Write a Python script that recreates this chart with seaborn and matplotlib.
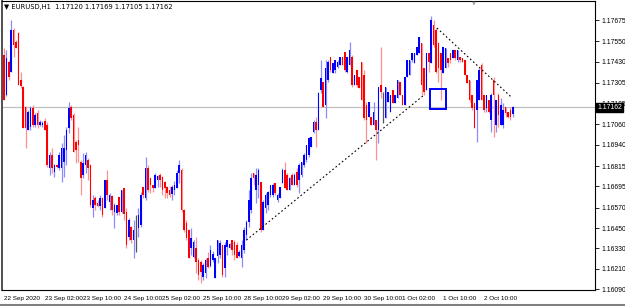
import matplotlib
matplotlib.use("Agg")
import matplotlib.pyplot as plt
import matplotlib.transforms as mtransforms
from matplotlib.patches import Rectangle
from matplotlib.lines import Line2D
import seaborn as sns
import numpy as np

sns.set_style("white")
plt.rcParams['font.family'] = ['Liberation Sans', 'DejaVu Sans']

# ---------------- data (EURUSD H1) ----------------
opens = [
    1.17469, 1.17233, 1.17428, 1.17369, 1.17616, 1.17546, 1.17599, 1.17322, 1.17281, 1.17163,
    1.17027, 1.17045, 1.17157, 1.17057, 1.17127, 1.17057, 1.17057, 1.17080, 1.17057, 1.16803,
    1.16880, 1.16780, 1.16821, 1.16803, 1.16803, 1.16839, 1.16910, 1.17039, 1.17163, 1.17116,
    1.16957, 1.16968, 1.16839, 1.16762, 1.16821, 1.16851, 1.16821, 1.16568, 1.16627, 1.16597,
    1.16580, 1.16627, 1.16568, 1.16733, 1.16603, 1.16639, 1.16544, 1.16538, 1.16633, 1.16544,
    1.16686, 1.16544, 1.16397, 1.16456, 1.16379, 1.16397, 1.16450, 1.16468, 1.16692, 1.16627,
    1.16803, 1.16745, 1.16703, 1.16686, 1.16733, 1.16762, 1.16750, 1.16721, 1.16692, 1.16674,
    1.16650, 1.16674, 1.16686, 1.16774, 1.16792, 1.16556, 1.16480, 1.16438, 1.16332, 1.16279,
    1.16332, 1.16262, 1.16250, 1.16161, 1.16185, 1.16273, 1.16226, 1.16262, 1.16156, 1.16285,
    1.16291, 1.16350, 1.16215, 1.16338, 1.16332, 1.16379, 1.16368, 1.16350, 1.16285, 1.16273,
    1.16321, 1.16409, 1.16485, 1.16556, 1.16774, 1.16674, 1.16703, 1.16721, 1.16438, 1.16568,
    1.16586, 1.16644, 1.16644, 1.16715, 1.16615, 1.16627, 1.16715, 1.16792, 1.16762, 1.16674,
    1.16762, 1.16703, 1.16780, 1.16733, 1.16762, 1.16821, 1.16851, 1.16880, 1.16927, 1.17016,
    1.17074, 1.17027, 1.17263, 1.17310, 1.17175, 1.17322, 1.17457, 1.17363, 1.17381, 1.17398,
    1.17410, 1.17457, 1.17487, 1.17369, 1.17410, 1.17457, 1.17292, 1.17381, 1.17339, 1.17428,
    1.17351, 1.17175, 1.17104, 1.17104, 1.17057, 1.17086, 1.17027, 1.17292, 1.17204, 1.17098,
    1.17192, 1.17133, 1.17263, 1.17186, 1.17216, 1.17310, 1.17233, 1.17175, 1.17339, 1.17351,
    1.17440, 1.17422, 1.17469, 1.17481, 1.17540, 1.17392, 1.17263, 1.17481, 1.17422, 1.17646,
    1.17616, 1.17540, 1.17481, 1.17363, 1.17392, 1.17451, 1.17481, 1.17451, 1.17498, 1.17440,
    1.17457, 1.17451, 1.17440, 1.17351, 1.17322, 1.17233, 1.17186, 1.17145, 1.17204, 1.17410,
    1.17233, 1.17157, 1.17204, 1.17086, 1.17322, 1.17057, 1.17233, 1.17057, 1.17057, 1.17163,
    1.17133, 1.17145, 1.17120,
]
closes = [
    1.17204, 1.17451, 1.17339, 1.17616, 1.17528, 1.17510, 1.17292, 1.17286, 1.17039, 1.17039,
    1.17133, 1.17157, 1.17057, 1.17116, 1.17057, 1.17074, 1.17069, 1.17027, 1.16821, 1.16880,
    1.16803, 1.16821, 1.16809, 1.16880, 1.16921, 1.16921, 1.17027, 1.17157, 1.17098, 1.16898,
    1.16910, 1.16939, 1.16745, 1.16833, 1.16880, 1.16803, 1.16586, 1.16615, 1.16586, 1.16580,
    1.16627, 1.16527, 1.16733, 1.16644, 1.16644, 1.16556, 1.16586, 1.16586, 1.16544, 1.16674,
    1.16533, 1.16350, 1.16497, 1.16379, 1.16438, 1.16397, 1.16527, 1.16644, 1.16644, 1.16803,
    1.16674, 1.16703, 1.16686, 1.16762, 1.16756, 1.16733, 1.16674, 1.16686, 1.16656, 1.16644,
    1.16692, 1.16703, 1.16774, 1.16821, 1.16556, 1.16438, 1.16391, 1.16273, 1.16391, 1.16368,
    1.16250, 1.16173, 1.16191, 1.16232, 1.16262, 1.16220, 1.16321, 1.16297, 1.16273, 1.16379,
    1.16362, 1.16173, 1.16350, 1.16379, 1.16356, 1.16321, 1.16291, 1.16273, 1.16309, 1.16350,
    1.16438, 1.16485, 1.16615, 1.16745, 1.16745, 1.16762, 1.16792, 1.16438, 1.16603, 1.16644,
    1.16662, 1.16703, 1.16703, 1.16656, 1.16644, 1.16692, 1.16792, 1.16686, 1.16674, 1.16745,
    1.16703, 1.16762, 1.16703, 1.16821, 1.16839, 1.16880, 1.16939, 1.16980, 1.16986, 1.17074,
    1.17027, 1.17245, 1.17334, 1.17163, 1.17392, 1.17428, 1.17381, 1.17422, 1.17440, 1.17428,
    1.17457, 1.17410, 1.17381, 1.17457, 1.17498, 1.17292, 1.17351, 1.17292, 1.17275, 1.17204,
    1.17098, 1.17086, 1.17192, 1.17057, 1.17133, 1.17027, 1.17281, 1.17251, 1.17204, 1.17281,
    1.17251, 1.17233, 1.17186, 1.17233, 1.17322, 1.17233, 1.17175, 1.17339, 1.17440, 1.17440,
    1.17481, 1.17481, 1.17516, 1.17575, 1.17292, 1.17251, 1.17481, 1.17428, 1.17675, 1.17528,
    1.17369, 1.17392, 1.17381, 1.17516, 1.17510, 1.17422, 1.17440, 1.17498, 1.17451, 1.17498,
    1.17440, 1.17428, 1.17351, 1.17304, 1.17204, 1.17157, 1.17039, 1.17322, 1.17381, 1.17204,
    1.17145, 1.17233, 1.17133, 1.17233, 1.17233, 1.17204, 1.17116, 1.17175, 1.17145, 1.17127,
    1.17104, 1.17104, 1.17162,
]
highs = [
    1.17510, 1.17498, 1.17440, 1.17675, 1.17628, 1.17557, 1.17605, 1.17369, 1.17286, 1.17169,
    1.17145, 1.17169, 1.17175, 1.17127, 1.17145, 1.17086, 1.17080, 1.17098, 1.17074, 1.16898,
    1.16921, 1.16827, 1.16827, 1.16898, 1.16951, 1.16998, 1.17045, 1.17192, 1.17175, 1.17127,
    1.16968, 1.17045, 1.16851, 1.16892, 1.16898, 1.16862, 1.16827, 1.16644, 1.16639, 1.16615,
    1.16644, 1.16633, 1.16733, 1.16792, 1.16656, 1.16644, 1.16597, 1.16586, 1.16633, 1.16674,
    1.16686, 1.16568, 1.16509, 1.16462, 1.16497, 1.16527, 1.16568, 1.16662, 1.16692, 1.16868,
    1.16821, 1.16745, 1.16703, 1.16774, 1.16762, 1.16774, 1.16756, 1.16727, 1.16698, 1.16698,
    1.16703, 1.16727, 1.16792, 1.16851, 1.16803, 1.16562, 1.16497, 1.16444, 1.16450, 1.16379,
    1.16397, 1.16273, 1.16262, 1.16244, 1.16273, 1.16309, 1.16350, 1.16315, 1.16273, 1.16379,
    1.16379, 1.16350, 1.16368, 1.16379, 1.16362, 1.16379, 1.16379, 1.16368, 1.16321, 1.16379,
    1.16456, 1.16497, 1.16674, 1.16774, 1.16774, 1.16803, 1.16803, 1.16721, 1.16615, 1.16656,
    1.16668, 1.16703, 1.16715, 1.16715, 1.16656, 1.16692, 1.16803, 1.16839, 1.16774, 1.16750,
    1.16774, 1.16774, 1.16803, 1.16833, 1.16839, 1.16892, 1.16939, 1.16986, 1.16986, 1.17086,
    1.17104, 1.17251, 1.17440, 1.17310, 1.17440, 1.17440, 1.17457, 1.17422, 1.17440, 1.17440,
    1.17457, 1.17457, 1.17487, 1.17457, 1.17546, 1.17469, 1.17351, 1.17381, 1.17339, 1.17428,
    1.17381, 1.17192, 1.17192, 1.17104, 1.17192, 1.17086, 1.17281, 1.17516, 1.17251, 1.17281,
    1.17251, 1.17233, 1.17263, 1.17233, 1.17322, 1.17310, 1.17233, 1.17339, 1.17440, 1.17440,
    1.17481, 1.17481, 1.17516, 1.17575, 1.17540, 1.17392, 1.17481, 1.17481, 1.17699, 1.17675,
    1.17628, 1.17546, 1.17481, 1.17516, 1.17510, 1.17451, 1.17481, 1.17498, 1.17498, 1.17498,
    1.17457, 1.17451, 1.17440, 1.17351, 1.17322, 1.17233, 1.17186, 1.17322, 1.17392, 1.17422,
    1.17233, 1.17233, 1.17204, 1.17245, 1.17339, 1.17204, 1.17245, 1.17216, 1.17186, 1.17163,
    1.17133, 1.17163, 1.17169,
]
lows = [
    1.17204, 1.17228, 1.17322, 1.17369, 1.17457, 1.17510, 1.17292, 1.17275, 1.17039, 1.16921,
    1.17027, 1.17027, 1.17045, 1.17045, 1.17039, 1.17051, 1.17045, 1.17027, 1.16809, 1.16762,
    1.16774, 1.16750, 1.16803, 1.16792, 1.16721, 1.16750, 1.16821, 1.17010, 1.17086, 1.16898,
    1.16833, 1.16839, 1.16644, 1.16745, 1.16774, 1.16733, 1.16574, 1.16515, 1.16556, 1.16574,
    1.16556, 1.16515, 1.16568, 1.16615, 1.16556, 1.16527, 1.16450, 1.16527, 1.16527, 1.16538,
    1.16497, 1.16332, 1.16379, 1.16362, 1.16273, 1.16309, 1.16397, 1.16456, 1.16627, 1.16615,
    1.16662, 1.16656, 1.16662, 1.16686, 1.16692, 1.16692, 1.16644, 1.16627, 1.16627, 1.16633,
    1.16615, 1.16644, 1.16686, 1.16715, 1.16544, 1.16427, 1.16379, 1.16273, 1.16291, 1.16273,
    1.16185, 1.16144, 1.16126, 1.16144, 1.16156, 1.16215, 1.16220, 1.16250, 1.16156, 1.16244,
    1.16273, 1.16161, 1.16161, 1.16291, 1.16332, 1.16291, 1.16262, 1.16273, 1.16279, 1.16220,
    1.16303, 1.16379, 1.16456, 1.16538, 1.16703, 1.16597, 1.16627, 1.16427, 1.16438, 1.16538,
    1.16556, 1.16633, 1.16633, 1.16644, 1.16603, 1.16627, 1.16715, 1.16686, 1.16674, 1.16674,
    1.16703, 1.16703, 1.16692, 1.16656, 1.16750, 1.16809, 1.16839, 1.16868, 1.16927, 1.17010,
    1.16927, 1.17027, 1.17245, 1.17163, 1.17098, 1.17310, 1.17369, 1.17363, 1.17363, 1.17392,
    1.17410, 1.17410, 1.17369, 1.17363, 1.17410, 1.17281, 1.17292, 1.17281, 1.17275, 1.17204,
    1.17086, 1.16951, 1.17104, 1.17057, 1.17057, 1.16851, 1.16951, 1.17216, 1.17069, 1.17098,
    1.17192, 1.17133, 1.17186, 1.17186, 1.17216, 1.17233, 1.17175, 1.17175, 1.17339, 1.17351,
    1.17428, 1.17422, 1.17469, 1.17481, 1.17233, 1.17233, 1.17263, 1.17369, 1.17422, 1.17516,
    1.17363, 1.17310, 1.17204, 1.17363, 1.17392, 1.17398, 1.17422, 1.17451, 1.17440, 1.17428,
    1.17428, 1.17428, 1.17351, 1.17304, 1.17192, 1.17145, 1.17039, 1.16957, 1.17204, 1.17204,
    1.17133, 1.17133, 1.17127, 1.17016, 1.16986, 1.17016, 1.17045, 1.17057, 1.17039, 1.17104,
    1.17098, 1.17086, 1.17105,
]
assert len(opens) == len(closes) == len(highs) == len(lows)

price_ticks = [1.17675, 1.17550, 1.17430, 1.17305, 1.17185, 1.17060, 1.16940,
               1.16815, 1.16695, 1.16570, 1.16450, 1.16330, 1.16210, 1.16090]
time_tick_bars = [0, 17, 33, 50, 66, 83, 100, 116, 133, 150, 166, 183, 200]
time_tick_labels = ["22 Sep 2020", "23 Sep 02:00", "23 Sep 10:00", "24 Sep 10:00",
                    "25 Sep 02:00", "25 Sep 10:00", "28 Sep 10:00", "29 Sep 02:00",
                    "29 Sep 10:00", "30 Sep 10:00", "1 Oct 02:00", "1 Oct 10:00",
                    "2 Oct 10:00"]
last_price = 1.17162
header = "EURUSD,H1  1.17120 1.17169 1.17105 1.17162"

trend_up_bars = [101, 175]
trend_up_prices = [1.16379, 1.17233]
trend_dn_bars = [180.4, 211.3]
trend_dn_prices = [1.17628, 1.17222]
box_bars = [177.5, 184.2]
box_prices = [1.17151, 1.17269]

# ---------------- figure ----------------
W, H = 625, 306
FS = 4.9
FSX = 4.6
fig = plt.figure(figsize=(W / 100, H / 100), dpi=100)
fig.patch.set_facecolor("white")
ax = fig.add_axes([2 / W, 16 / H, 593 / W, 289 / H])
ax.set_facecolor("white")

n = len(opens)
xs = np.arange(n)
o = np.array(opens); c = np.array(closes)
hi = np.maximum.reduce([np.array(highs), o, c])
lo = np.minimum.reduce([np.array(lows), o, c])

up_col, dn_col, dj_col = "#0000ff", "#ff0000", "#000000"
up_light, dn_light = "#8c8cff", "#ff9090"

cols, lcols = [], []
for oi, ci in zip(o, c):
    if ci > oi:
        cols.append(up_col); lcols.append(up_light)
    elif ci < oi:
        cols.append(dn_col); lcols.append(dn_light)
    else:
        cols.append(dj_col); lcols.append("#555555")

# wicks
ax.vlines(xs, lo, hi, colors=lcols, linewidth=0.9, zorder=2)
# bodies
bottoms = np.minimum(o, c)
heights = np.maximum(np.abs(c - o), 0.000015)
ax.bar(xs, heights, bottom=bottoms, width=0.66, color=cols, linewidth=0, zorder=3)

# current price line
ax.axhline(last_price, color="#c0c0c0", linewidth=0.9, zorder=1)

# trend lines (dotted)
sns.lineplot(x=trend_up_bars, y=trend_up_prices, ax=ax, color="black",
             linewidth=0.8, linestyle=(0, (1.5, 2.2)), zorder=4)
sns.lineplot(x=trend_dn_bars, y=trend_dn_prices, ax=ax, color="black",
             linewidth=0.8, linestyle=(0, (1.5, 2.2)), zorder=4)

# blue rectangle
ax.add_patch(Rectangle((box_bars[0], box_prices[0]), box_bars[1] - box_bars[0],
                       box_prices[1] - box_prices[0], fill=False,
                       edgecolor="#0000ff", linewidth=1.4, zorder=5))

# limits (pixel-calibrated)
ax.set_xlim(-0.83, 246.25)
ax.set_ylim(1.160849, 1.177871)

# y axis on the right
ax.yaxis.tick_right()
ax.set_yticks(price_ticks)
ax.set_yticklabels([f"{p:.5f}" for p in price_ticks])
ax.tick_params(axis="y", direction="out", length=3, width=0.6, pad=1.5,
               labelsize=FS, colors="black")

# x axis
ax.set_xticks(time_tick_bars)
ax.set_xticklabels(time_tick_labels)
ax.tick_params(axis="x", direction="out", length=3, width=0.6, pad=1.5,
               labelsize=FSX, colors="black")
for lab in ax.get_xticklabels():
    lab.set_horizontalalignment("left")

for s in ["left", "right", "bottom", "top"]:
    ax.spines[s].set_visible(True)
    ax.spines[s].set_color("black")
    ax.spines[s].set_linewidth(0.8)
ax.spines["left"].set_color("#505050")
ax.spines["left"].set_linewidth(1.4)
ax.set_xlabel(""); ax.set_ylabel("")
ax.grid(False)

# current price label box
trans = mtransforms.blended_transform_factory(ax.transAxes, ax.transData)
ax.text(1.004, last_price, f"{last_price:.5f}", transform=trans, ha="left",
        va="center", fontsize=FS, color="white", zorder=10, clip_on=False,
        bbox=dict(boxstyle="square,pad=0.15", facecolor="black", edgecolor="black"))

# header
fig.text(4 / W, 1 - 7.5 / H, "\u25BC " + header, fontsize=FS, color="black",
         ha="left", va="center", family=['DejaVu Sans'])
# small shift marker at top
fig.text(474 / W, 1 - 2.5 / H, "\u25BC", fontsize=3.5, color="#a0a0a0",
         ha="center", va="center", family=['DejaVu Sans'])

# window bottom border
fig.add_artist(Line2D([0, 1], [1.5 / H, 1.5 / H], color="#808080", linewidth=2.2,
                      transform=fig.transFigure))

fig.savefig("out.png", dpi=100, facecolor="white")
